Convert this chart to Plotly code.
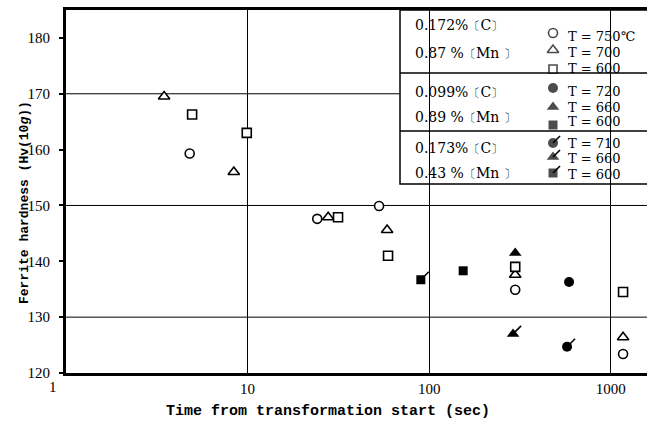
import plotly.graph_objects as go

# ---------------- data ----------------
# Group 1: 0.172%C, 0.87%Mn (open symbols)
g1_circle_x = [4.8, 24.2, 53, 298, 1170]
g1_circle_y = [159.3, 147.6, 149.9, 134.9, 123.4]
g1_tri_x = [3.47, 8.4, 27.8, 58.7, 298, 1170]
g1_tri_y = [169.5, 156.0, 147.9, 145.6, 137.6, 126.4]
g1_sq_x = [4.95, 9.9, 31.5, 59.4, 298, 1170]
g1_sq_y = [166.3, 163.0, 147.9, 141.0, 139.0, 134.5]
# Group 2: 0.099%C, 0.89%Mn (filled symbols)
g2_circle_x = [590]
g2_circle_y = [136.3]
g2_tri_x = [298]
g2_tri_y = [141.5]
g2_sq_x = [154]
g2_sq_y = [138.3]
# Group 3: 0.173%C, 0.43%Mn (filled symbols with flag)
g3_circle_x = [575]
g3_circle_y = [124.7]
g3_tri_x = [290]
g3_tri_y = [127.0]
g3_sq_x = [90]
g3_sq_y = [136.7]

x_ticks = [10, 100, 1000]
y_ticks = [120, 130, 140, 150, 160, 170, 180]
grid_y = [130, 150, 170]

legend_C = ["0.172", "0.099", "0.173"]
legend_Mn = ["0.87", "0.89", "0.43"]
legend_T = ["T = 750℃", "T = 700", "T = 600",
            "T = 720", "T = 660", "T = 600",
            "T = 710", "T = 660", "T = 600"]

FONT = "Liberation Serif"
LFONT = "DejaVu Serif"
TFONT = "Liberation Mono"
BLACK = "black"

fig = go.Figure()

def add(x, y, symbol, size, filled):
    fig.add_trace(go.Scatter(
        x=x, y=y, mode="markers", showlegend=False,
        marker=dict(symbol=symbol, size=size,
                    color=BLACK if filled else "white",
                    line=dict(color=BLACK, width=1.6 if not filled else 0)),
        cliponaxis=False))

add(g1_circle_x, g1_circle_y, "circle", 9, False)
add(g1_tri_x, g1_tri_y, "triangle-up", 10, False)
add(g1_sq_x, g1_sq_y, "square", 9, False)
add(g2_circle_x, g2_circle_y, "circle", 10, True)
add(g2_tri_x, g2_tri_y, "triangle-up", 11, True)
add(g2_sq_x, g2_sq_y, "square", 9, True)
add(g3_circle_x, g3_circle_y, "circle", 10, True)
add(g3_tri_x, g3_tri_y, "triangle-up", 11, True)
add(g3_sq_x, g3_sq_y, "square", 9, True)

shapes = []
# horizontal grid lines
for gy in grid_y:
    shapes.append(dict(type="line", xref="paper", yref="y", x0=0, x1=1, y0=gy, y1=gy,
                       line=dict(color=BLACK, width=1), layer="below"))

# flags on group 3 points
for xs, ys in [(g3_circle_x, g3_circle_y), (g3_tri_x, g3_tri_y), (g3_sq_x, g3_sq_y)]:
    for xv, yv in zip(xs, ys):
        shapes.append(dict(type="line", xref="x", yref="y",
                           xsizemode="pixel", ysizemode="pixel",
                           xanchor=xv, yanchor=yv, x0=0, x1=8, y0=0, y1=8,
                           line=dict(color=BLACK, width=1.6)))

# ---------- legend box (overlay pixel axes x2/y2) ----------
LX0, LX1 = 400, 647
LY = [10, 73, 131, 184]
shapes.append(dict(type="rect", xref="x2", yref="y2", x0=LX0, x1=LX1 + 5, y0=LY[0], y1=LY[3],
                   fillcolor="white", line=dict(color=BLACK, width=1.5), layer="below"))
for yy in LY[1:3]:
    shapes.append(dict(type="line", xref="x2", yref="y2", x0=LX0, x1=LX1 + 5, y0=yy, y1=yy,
                       line=dict(color=BLACK, width=1.5), layer="below"))

sym_x = 553
sym_rows = [33, 50, 69, 88, 107, 125, 143, 157, 173]
text_rows = [36, 52, 68, 91, 107, 121, 143, 158, 174]
sym_list = ["circle", "triangle-up", "square"] * 3
sym_fill = [False] * 3 + [True] * 6
sym_size = [9, 10, 8, 10, 11, 9, 10, 11, 9]

fig.add_trace(go.Scatter(
    x=[sym_x] * 9, y=sym_rows, xaxis="x2", yaxis="y2", mode="markers", showlegend=False,
    marker=dict(symbol=sym_list, size=sym_size,
                color=[BLACK if f else "white" for f in sym_fill],
                line=dict(color=BLACK, width=[0 if f else 1.6 for f in sym_fill])),
    cliponaxis=False, hoverinfo="skip"))
for yv in sym_rows[6:]:
    shapes.append(dict(type="line", xref="x2", yref="y2",
                       xsizemode="pixel", ysizemode="pixel",
                       xanchor=sym_x, yanchor=yv, x0=0, x1=7, y0=0, y1=7,
                       line=dict(color=BLACK, width=1.6)))

BL = "<span style='font-size:12px'>〔</span>"
BR = "<span style='font-size:12px'>〕</span>"
annotations = []
comp_rows = [(25, 53), (92, 117), (148, 173)]
for c, m, (yc, ym) in zip(legend_C, legend_Mn, comp_rows):
    annotations.append(dict(x=413, y=yc, xref="x2", yref="y2",
                            text=f"{c}%{BL}C{BR}", showarrow=False,
                            xanchor="left", yanchor="middle",
                            font=dict(family=LFONT, size=14, color=BLACK)))
    annotations.append(dict(x=413, y=ym, xref="x2", yref="y2",
                            text=f"{m} %{BL}Mn {BR}", showarrow=False,
                            xanchor="left", yanchor="middle",
                            font=dict(family=LFONT, size=14, color=BLACK)))
for t, yv in zip(legend_T, text_rows):
    annotations.append(dict(x=566, y=yv, xref="x2", yref="y2", text=t, showarrow=False,
                            xanchor="left", yanchor="middle",
                            font=dict(family=LFONT, size=13, color=BLACK)))

# "1" tick label at the left end of the log axis
annotations.append(dict(x=0, y=0, xref="x", yref="paper", text="1", showarrow=False,
                        xanchor="center", yanchor="top", xshift=-13, yshift=-4,
                        font=dict(family=FONT, size=15, color=BLACK)))
# axis titles (paper coordinates)
annotations.append(dict(x=0.451, y=-0.1074, xref="paper", yref="paper",
                        text="Time from transformation start (sec)",
                        showarrow=False, xanchor="center", yanchor="middle",
                        font=dict(family=TFONT, size=15, color=BLACK, weight="bold")))
annotations.append(dict(x=-0.0723, y=0.471, xref="paper", yref="paper",
                        text="Ferrite hardness (Hv(10<i>g</i>))",
                        showarrow=False, xanchor="center", yanchor="middle", textangle=-90,
                        font=dict(family=TFONT, size=13, color=BLACK, weight="bold")))

fig.update_layout(
    width=647, height=423,
    margin=dict(l=66, r=0, t=10, b=50),
    paper_bgcolor="white", plot_bgcolor="white",
    font=dict(family=FONT, size=15, color=BLACK),
    shapes=shapes, annotations=annotations,
    xaxis=dict(type="log", range=[0, 3.2], tickvals=x_ticks, ticktext=[str(v) for v in x_ticks],
               showgrid=True, gridcolor=BLACK, gridwidth=1, automargin=False,
               showline=True, linecolor=BLACK, linewidth=3, mirror=True,
               ticks="", zeroline=False,
               tickfont=dict(family=FONT, size=15, color=BLACK)),
    yaxis=dict(range=[120, 185], tickvals=y_ticks, automargin=False,
               showgrid=False, showline=True, linecolor=BLACK, linewidth=3,
               ticks="outside", ticklen=4, tickwidth=1.5, tickcolor=BLACK, zeroline=False,
               ticklabelstandoff=6,
               tickfont=dict(family=FONT, size=15, color=BLACK)),
    xaxis2=dict(overlaying="x", anchor="y2", range=[66, 647], visible=False, fixedrange=True,
                automargin=False),
    yaxis2=dict(overlaying="y", anchor="x2", range=[373, 10], visible=False, fixedrange=True,
                automargin=False),
)

fig.write_html("out.html", config={"displayModeBar": False},
               post_script="document.body.style.margin='0px';")
